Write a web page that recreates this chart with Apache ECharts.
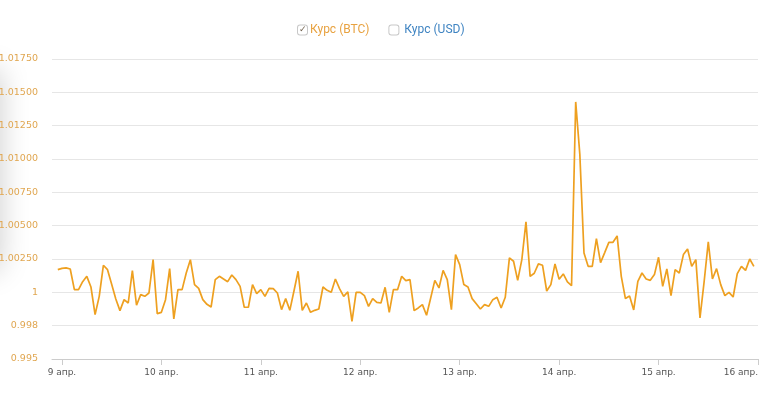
<!DOCTYPE html>
<html>
<head>
<meta charset="utf-8">
<script src="https://cdn.jsdelivr.net/npm/echarts@6/dist/echarts.min.js"></script>
<style>
html,body{margin:0;padding:0;background:#fff;}
#chart{width:766px;height:394px;}
</style>
</head>
<body>
<div id="chart"></div>
<script>
// hourly BTC rate, first point = 8 апр 23:00 (hour -1 relative to 9 апр 00:00)
const startHour = -1;
const btcRate = [
  1.0017, 1.0018, 1.00183, 1.00175, 1.0002, 1.0002, 1.0008, 1.0012, 1.0004, 0.99833,
  0.9997, 1.00203, 1.0017, 1.0006, 0.9995, 0.99863, 0.99945, 0.9992, 1.00163, 0.99903,
  0.99983, 0.9997, 0.99995, 1.00245, 0.9984, 0.9985, 0.99945, 1.00178, 0.998, 1.0002,
  1.0002, 1.00145, 1.00245, 1.00058, 1.0003, 0.99945, 0.9991, 0.9989, 1.00095, 1.0012,
  1.001, 1.0008, 1.0013, 1.00095, 1.00045, 0.99888, 0.99888, 1.00058, 0.9999, 1.0002,
  0.9997, 1.0003, 1.00028, 0.99995, 0.9987, 0.99953, 0.99865, 1.0001, 1.00158, 0.99865,
  0.9992, 0.9985, 0.99865, 0.99875, 1.0004, 1.00015, 1.0, 1.001, 1.00028, 0.9997,
  1.00003, 0.99783, 1.0, 1.0, 0.99975, 0.99895, 0.99953, 0.99925, 0.9992, 1.00038,
  0.9985, 1.0002, 1.0002, 1.0012, 1.00088, 1.00095, 0.99863, 0.99883, 0.99908, 0.99828,
  0.99958, 1.0009, 1.00033, 1.00165, 1.00095, 0.9987, 1.00283, 1.00208, 1.00058, 1.0004,
  0.99953, 0.99915, 0.99875, 0.99908, 0.99895, 0.99945, 0.99963, 0.99883, 0.99963, 1.00258,
  1.00233, 1.0009, 1.00245, 1.00528, 1.0012, 1.00143, 1.00213, 1.00203, 1.0001, 1.00058,
  1.00213, 1.00098, 1.00138, 1.00078, 1.0005, 1.01428, 1.01033, 1.00295, 1.00195, 1.00195,
  1.00403, 1.00223, 1.00298, 1.00375, 1.00375, 1.00423, 1.0012, 0.99953, 0.99972, 0.99868,
  1.00083, 1.00145, 1.001, 1.0009, 1.00133, 1.00263, 1.00045, 1.00175, 0.99975, 1.0017,
  1.00145, 1.00283, 1.00325, 1.00195, 1.00245, 0.99808, 1.0008, 1.00378, 1.001, 1.00178,
  1.00058, 0.99975, 1.0, 0.99965, 1.0014, 1.00195, 1.00165, 1.0025, 1.00195
];
const usdRate = []; // series present in legend, not shown
const seriesNames = ['Курс (BTC)', 'Курс (USD)'];
const xTickHours = [0, 24, 48, 72, 96, 120, 144, 168];
const xTickLabels = ['9 апр.', '10 апр.', '11 апр.', '12 апр.', '13 апр.', '14 апр.', '15 апр.', '16 апр.'];
const yTickLabels = ['0.995', '0.998', '1', '1.00250', '1.00500', '1.00750', '1.01000', '1.01250', '1.01500', '1.01750'];

const btcData = btcRate.map((v, i) => [startHour + i, v]);

const chart = echarts.init(document.getElementById('chart'));
chart.setOption({
  animation: false,
  backgroundColor: '#fff',
  graphic: [{
    type: 'rect',
    silent: true,
    z: -10,
    shape: { x: -40, y: 70, width: 40, height: 200 },
    style: { fill: '#fff', shadowBlur: 30, shadowColor: 'rgba(0,0,0,0.2)', shadowOffsetX: 0 }
  }],
  legend: {
    top: 19,
    left: 288,
    icon: 'rect',
    itemWidth: 0,
    itemHeight: 10,
    itemGap: 15,
    selectedMode: false,
    itemStyle: { opacity: 0, color: 'transparent', borderWidth: 0 },
    lineStyle: { opacity: 0 },
    data: seriesNames,
    formatter: function (name) {
      return name === seriesNames[0]
        ? '{cb|✓} {t1|' + name + '}'
        : '{cb|}  {t2|' + name + '}';
    },
    textStyle: {
      fontFamily: 'Roboto',
      fontSize: 12,
      rich: {
        cb: { width: 9, height: 9, borderColor: '#c8c8c8', borderWidth: 1, borderRadius: 2,
              color: '#6e5e4a', fontSize: 9, align: 'center', lineHeight: 11, backgroundColor: '#fff' },
        t1: { color: '#e8a240', fontFamily: 'Roboto', fontSize: 12 },
        t2: { color: '#3f84c2', fontFamily: 'Roboto', fontSize: 12 }
      }
    }
  },
  grid: { left: 52, right: 8, top: 59, bottom: 35, containLabel: false, outerBoundsMode: 'none' },
  xAxis: {
    type: 'value',
    min: -2.4,
    max: 168,
    axisLine: { show: true, lineStyle: { color: '#ccc', width: 1 } },
    axisTick: { show: true, customValues: xTickHours, length: 6, lineStyle: { color: '#ccc' } },
    axisLabel: {
      customValues: xTickHours,
      color: '#555',
      fontFamily: 'DejaVu Sans',
      fontSize: 9,
      margin: 9,
      alignMaxLabel: 'right',
      formatter: function (v) {
        const i = xTickHours.indexOf(Math.round(v));
        return i >= 0 ? xTickLabels[i] : '';
      }
    },
    splitLine: { show: false }
  },
  yAxis: {
    type: 'value',
    min: 0.995,
    max: 1.0175,
    interval: 0.0025,
    axisLine: { show: false },
    axisTick: { show: false },
    axisLabel: {
      color: '#e0a650',
      fontFamily: 'DejaVu Sans',
      fontSize: 9.5,
      margin: 14,
      formatter: function (v) {
        return yTickLabels[Math.round((v - 0.995) / 0.0025)];
      }
    },
    splitLine: { show: true, lineStyle: { color: '#e6e6e6', width: 1 } }
  },
  series: [
    {
      name: seriesNames[0],
      type: 'line',
      data: btcData,
      showSymbol: false,
      symbol: 'none',
      lineStyle: { color: '#eea020', width: 1.7 },
      itemStyle: { color: '#eea020' }
    },
    {
      name: seriesNames[1],
      type: 'line',
      data: usdRate,
      showSymbol: false,
      lineStyle: { color: '#3f84c2' },
      itemStyle: { color: '#3f84c2' }
    }
  ]
});
</script>
</body>
</html>
